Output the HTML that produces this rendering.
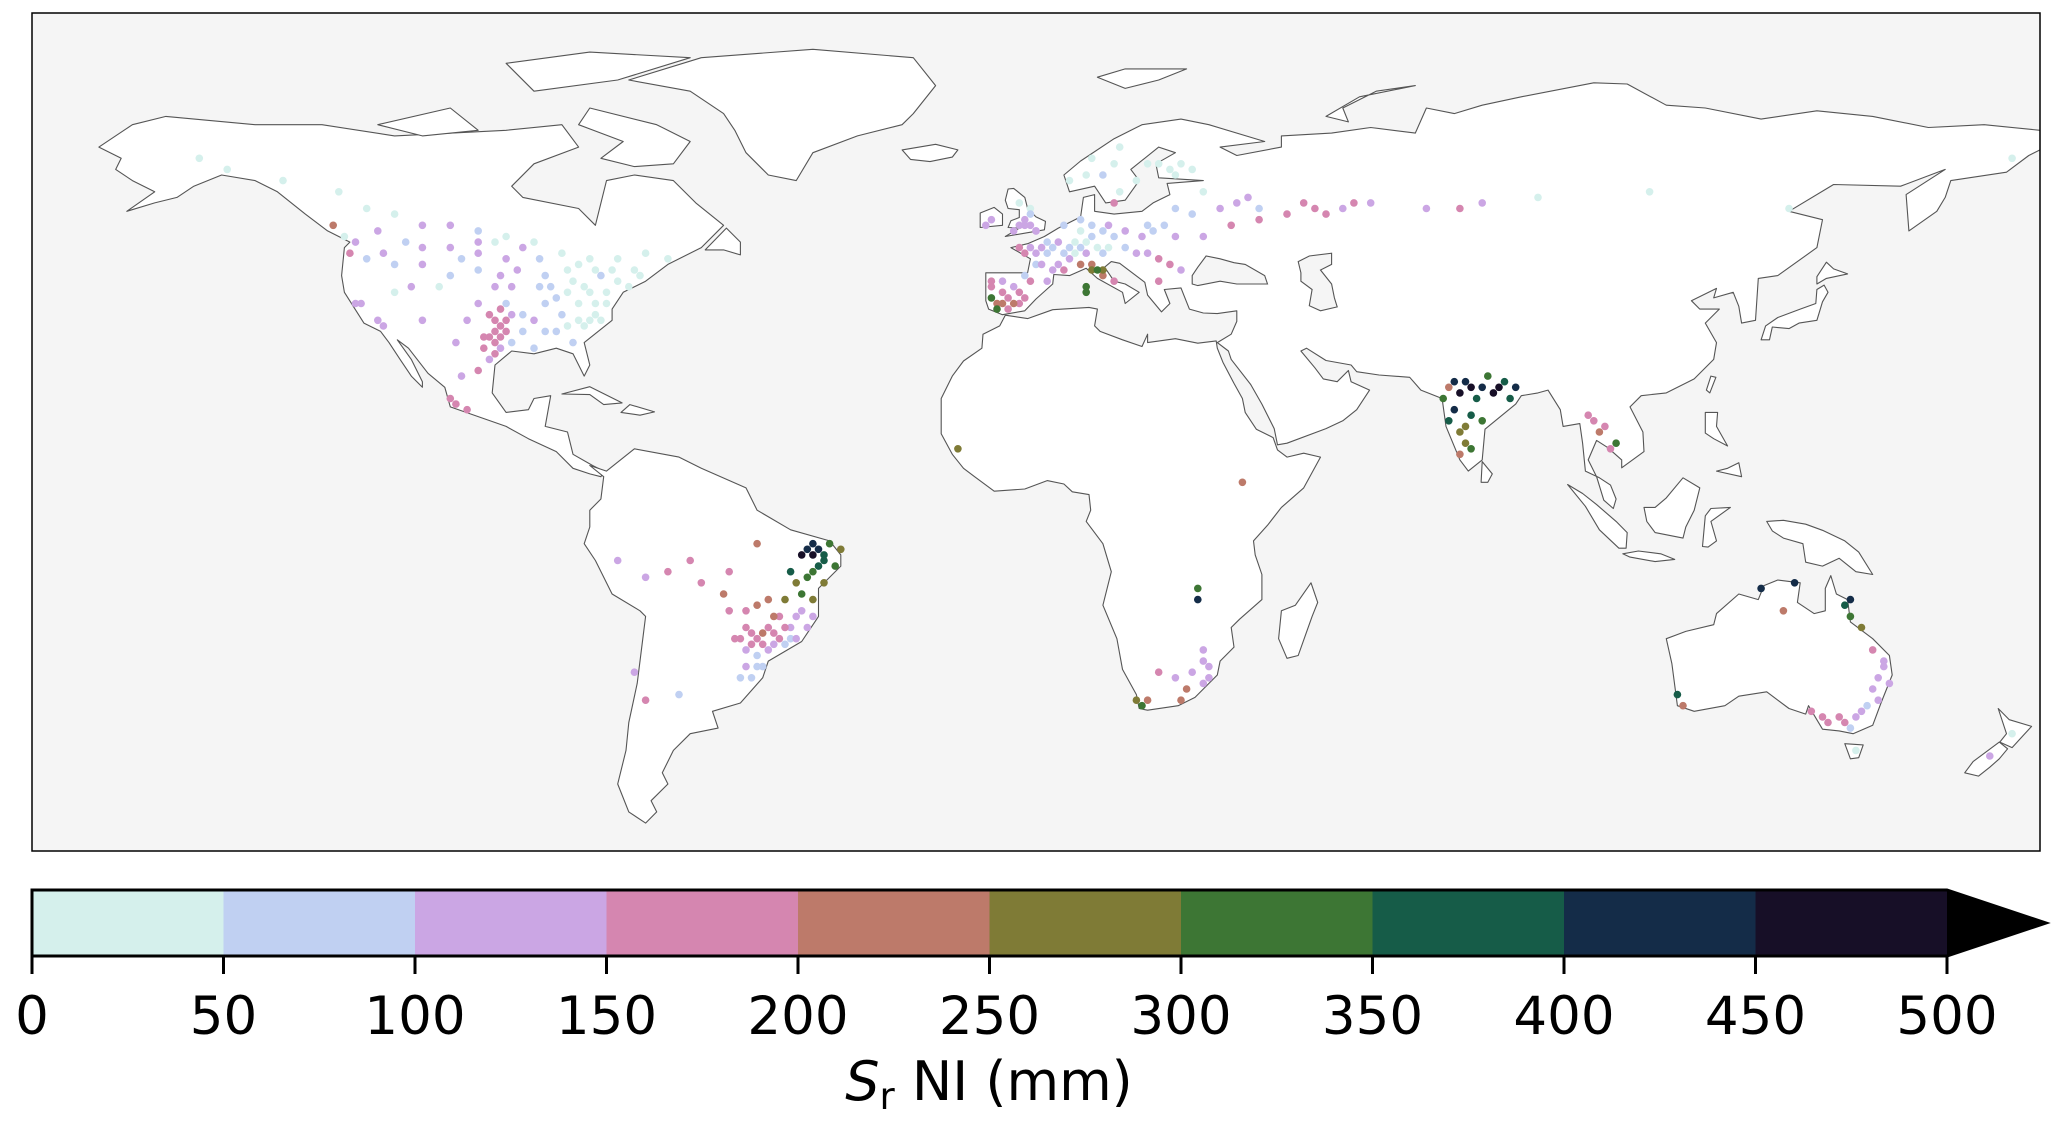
<!DOCTYPE html>
<html><head><meta charset="utf-8"><style>
html,body{margin:0;padding:0;background:#fff;}
svg{display:block;font-family:"DejaVu Sans","Liberation Sans",sans-serif;}
</style></head><body>
<svg id="fig" width="2067" height="1122" viewBox="0 0 2067 1122">
<rect x="32" y="13" width="2008" height="838" fill="#f5f5f5"/>
<g id="land"></g>
<g id="pts"></g>
<rect x="32" y="13" width="2008" height="838" fill="none" stroke="#000" stroke-width="1.5"/>
<g id="cbar"></g>
<text x="989" y="1100" font-size="54" text-anchor="middle"><tspan font-style="italic">S</tspan><tspan font-size="37" dy="9">r</tspan><tspan dy="-9"> NI (mm)</tspan></text>
</svg>
<script>
const binEdges=[0,50,100,150,200,250,300,350,400,450,500];
const binColors=["#d5f0ec","#c0d0f2","#cba6e4","#d586b0","#bd7a6a","#7f7b36","#3d7634","#165c48","#142c48","#170f27"];
const tickLabels=["0","50","100","150","200","250","300","350","400","450","500"];
const overColor="#000000";

const stationLon=[-150,-145,-135,-125,-120,-115,-110,-105,-100,-95,-90,-118,-122,-113,-100,-97,-92,-85,-80,-75,-70,-66,-72,-78,-83,-88,-93,-96,-100,-105,-110,-115,-120,-123,-80,-77,-82,-85,-88,-90,-95,-98,-97,-97,-99,-96,-94,-92,-86,-84,-81,-79,-98,-100,-103,-104,-102,-105,-100,-102,-110,-117,-121,-90,-83,-95,-97,-96,-99,-97,
-8,-6,-4,-3,-7,-5,-8,-1,2,-2,0,2,4,6,8,10,12,14,16,18,20,22,24,26,10,12,8,14,22,20,25,30,35,40,45,50,55,60,38,-2,-1,-3,-4,0,5,8,15,18,22,25,12,10,15,25,30,70,80,76,90,110,135,175,
77,80,82,84,79,76,73,75,78,80,76,77,76,78,83,85,81,74,99,100,101,102,104,103,
-14,37,29,29,30,28,25,22,20,19,27,31,30,
-40,-38,-37,-42,-44,-40,-38,-42,-45,-47,-45,-48,-50,-46,-48,-50,-52,-49,-44,-52,-54,-40,-43,-56,-55,-60,-62,-50,-66,-70,-75,-72,-70,-64,
115,116,130,136,145,146,148,150,152,153,151,148,145,141,139,146,134,147,175,171,
0,1,2,3,4,5,-1,-2,-3,1,3,5,6,7,7,9,11,13,12,9,8,10,13,16,19,21,23,28,33,36,40,48,52,57,10,11,12,9,9,-6,-5,-3,-2,-4,-6,-8,-7,0,-1,-2,-3,-1,-8,-9,14,20,24,26,28,14,9,6,
-75,-73,-71,-77,-79,-81,-84,-87,-84,-89,-82,-76,-79,-95,-100,-105,-110,-117,-97,-94,-96,-98,-95,-96,-94,-92,-86,-89,-80,-82,-78,-88,-104,-122,-118,-103,-107,-115,-112,-124,-126,
-39,-41,-40,-38,-36,-35,-39,-41,-43,-42,-46,-47,-49,-51,-53,-44,-45,-47,-49,-51,-52,-50,-51,-53,-48,-50,-52,-55,-43,-41,-40,
152,151,150,149,147,144,142,146,
75,78,86,74,77,
30,31,26,18];
const stationLat=[64,62,60,58,55,54,52,52,51,50,49,51,49,49,49,49,48,47,46,46,47,46,44,43,42,43,44,43,44,43,45,45,46,47,40,40,38,36,38,35,38,36,33,31,30,30,31,33,33,34,34,36,28,26,25,20,19,21,38,35,35,34,38,30,31,35,35,34,32,29,
42,40,38,40,38,37,39,42,42,43,45,47,45,46,48,50,51,50,48,47,47,46,45,44,45,43,45,42,42,52,50,50,52,53,54,55,55,56,57,52,54,56,51,51,52,53,58,60,63,61,61,64,66,55,58,55,56,55,57,58,55,64,
24,23,22,24,21,22,21,19,18,17,15,13,11,12,23,21,25,23,18,17,15,16,13,12,
12,6,-13,-15,-26,-28,-29,-28,-33,-34,-31,-29,-24,
-5,-7,-5,-7,-10,-10,-12,-14,-15,-18,-20,-20,-22,-22,-24,-25,-27,-27,-20,-20,-22,-18,-22,-14,-10,-12,-8,-5,-10,-11,-8,-28,-33,-32,
-32,-34,-13,-12,-16,-18,-20,-24,-27,-30,-33,-35,-37,-36,-35,-38,-17,-42,-39,-43,
47,48,49,48,49,47,48,47,48,45,44,44,48,49,47,49,48,48,47,47,51,52,52,51,50,51,52,54,55,56,55,56,54,56,44,44,44,40,41,38,39,38,39,41,42,41,37,51,52,53,52,55,53,52,56,63,62,63,62,63,61,60,
42,41,43,38,38,41,40,41,44,46,45,44,44,46,47,48,48,47,41,41,32,32,33,37,36,36,39,41,35,35,35,33,31,38,35,46,41,40,41,50,52,
-6,-6,-7,-8,-9,-6,-9,-11,-12,-17,-18,-21,-21,-21,-22,-22,-23,-23,-23,-23,-24,-27,-29,-29,-15,-16,-17,-17,-18,-20,-15,
-26,-29,-31,-34,-36,-36,-37,-15,
24,23,23,17,16,
-30,-27,-33,-33];
const stationSr=[20,30,25,20,40,30,110,120,90,30,40,130,110,60,120,25,130,20,30,25,40,20,30,80,20,60,110,120,90,70,130,60,80,180,30,20,40,70,60,110,80,160,180,190,170,140,90,60,70,40,25,30,140,150,120,170,160,180,140,100,120,110,140,70,60,160,170,150,190,180,
160,180,200,170,220,190,330,150,120,60,90,60,120,100,80,60,70,80,90,100,130,150,160,140,220,200,240,170,160,60,100,140,160,170,160,150,130,120,140,110,70,40,110,120,70,90,40,30,20,40,50,20,30,70,40,110,130,180,20,30,20,20,
400,420,450,380,350,470,320,400,360,300,280,250,200,330,460,360,300,210,190,160,200,170,300,180,
260,210,340,400,130,120,110,150,240,320,200,130,120,
400,350,300,450,380,320,250,330,270,200,170,160,150,180,110,90,100,70,140,180,160,120,100,210,170,180,150,200,170,120,100,110,150,80,
350,220,400,420,380,300,250,160,130,120,110,100,150,180,170,70,220,40,20,110,
120,100,60,80,110,90,140,150,160,110,130,180,70,40,30,40,30,40,60,110,40,60,100,120,110,90,60,70,120,130,90,150,180,160,260,300,280,330,320,240,190,180,170,140,120,160,300,140,120,130,110,40,120,100,180,40,30,20,30,20,40,30,
30,20,40,30,40,30,40,50,30,60,30,20,30,110,130,110,120,120,110,100,170,180,160,150,130,90,60,70,40,30,30,80,140,140,110,70,40,30,110,20,230,
420,440,460,380,300,280,350,300,250,120,170,190,200,180,150,90,80,100,170,160,130,60,80,70,220,200,190,170,140,110,260,
140,120,110,90,140,160,150,400,
440,460,420,380,290,
140,120,200,250];

const land=[
[[-168,66],[-162,70],[-156,71.5],[-140,70],[-128,70],[-115,68],[-95,69],[-85,70],[-82,66],[-90,63],[-94,59],[-92,57],[-82,55],[-79,52],[-77,60],[-72,61],[-65,60],[-61,56],[-56,52],[-60,48],[-66,45],[-70,42],[-74,40],[-76,37],[-76,35],[-81,31],[-80,27],[-81,25],[-83,29],[-86,30],[-90,29],[-94,29.5],[-97,27],[-97.5,22],[-95,18.5],[-91,19],[-90,21],[-87,21.5],[-88,16],[-84,15],[-83,11],[-79.5,9],[-77.5,8],[-78,7],[-80,7.5],[-83,8.5],[-86,11.5],[-91,13.8],[-95,16],[-105,19.5],[-106,23],[-109,25.5],[-112.5,30],[-114.5,31.5],[-112,28],[-110,24],[-110,23],[-112,25],[-114,28],[-116,31],[-117.5,33],[-120.5,34.5],[-124,40],[-124.5,43],[-124,48],[-123,49],[-127,51],[-131,54],[-136,58],[-140,60],[-146,61],[-151,59],[-154,57],[-158,56],[-163,54.5],[-158,58],[-162,60],[-165,62],[-164,64],[-168,66]],
[[-73,78],[-60,82],[-40,83.5],[-22,82],[-18,77],[-22,72],[-24,70],[-32,68],[-40,65],[-43,60],[-48,61],[-52,65],[-54,69],[-56,72],[-62,76],[-73,78]],
[[-80,73],[-68,70],[-62,67],[-65,63],[-72,62.5],[-78,64],[-74,67],[-82,70]],
[[-118,70],[-105,73],[-100,69],[-110,68]],
[[-90,76],[-75,78],[-62,82],[-80,83],[-95,81]],
[[-80,9],[-77,8],[-72,12],[-64,10.5],[-60,8.5],[-52,5],[-50,1],[-44,-2.5],[-37,-4.5],[-35,-7],[-35,-9],[-39,-13],[-39,-18],[-42,-22.5],[-48,-26],[-49,-29],[-53,-33.5],[-58,-35],[-57,-38],[-62,-39],[-65,-42],[-67,-46],[-66,-48],[-69,-51],[-68,-53],[-70,-55],[-73,-53],[-75,-48],[-73.5,-42],[-73,-37],[-71.5,-30],[-70,-18],[-71,-17],[-76,-14],[-79,-8],[-81,-5],[-80,-2],[-80,1],[-78,3],[-77.5,7],[-80,9]],
[[-9,43.5],[-1.5,43.5],[-1,46],[-4.5,48],[-1.5,48.7],[1.5,50],[4,51.5],[8,53.5],[8.5,57],[10.5,57.5],[10.5,54.5],[14,54],[19,54.5],[21,56],[24,57.5],[23.5,59.5],[30,60],[22,60.5],[21.5,63],[25,65],[22,66],[17,62],[18.5,60],[16,56.5],[12.5,56],[10.5,59],[6,58],[5,61],[8,63.5],[14,67.5],[19,70],[26,71],[31,70],[41,67],[33,66],[36,64.5],[44,66],[44,68],[53,68.5],[60,69.5],[68,68.5],[70,73],[75,72],[80,73.5],[87,75],[100,77.5],[106,77.3],[113,73.5],[120,73],[130,71],[140,72.5],[150,71.5],[160,69.5],[170,70],[180,69],[180,65.5],[178,64.5],[174,61.5],[164,60],[163,57],[161.5,54.5],[156.5,51],[156,57.5],[163,62],[155,59],[143,59.3],[135,54.5],[141,53],[140,48],[133,43],[129.5,42.5],[129,35],[126.5,34.5],[126,37.5],[125,40],[121.5,39],[122,40.7],[117.5,38.5],[119,37],[122.5,37],[120,34.5],[122,31],[121.5,28],[118,24.5],[113,22],[108.5,21.5],[106.5,19.5],[108.8,15],[109,11.5],[105,8.6],[105,10],[102.5,12.2],[100.5,13.5],[99,10],[100.5,7],[101.8,2.8],[103.5,1.3],[104,3],[103,5.5],[101,6.8],[98.5,8],[98,13],[97.5,16.5],[94.5,16],[94,19],[91.8,22.5],[90,22],[87,21.5],[86,20],[80.5,15.5],[80,10],[77.5,8],[76,10],[73.5,16],[72.8,21],[69,22.5],[67,24.8],[61.5,25.2],[57.5,25.8],[56.5,27],[52,27.8],[48.5,30],[47.5,29.5],[50,26.5],[51.5,24.5],[54,24],[56,26],[56.5,24],[59.8,22.5],[57.5,19],[55,17],[52,15.6],[45,13],[43.3,12.7],[42.7,15.6],[40.5,20],[38.5,23.5],[35,28],[34.5,29.5],[32.5,31],[35,32.5],[36,34.8],[36,36.7],[32.5,36.2],[30,36.3],[27.5,37],[26.5,39.5],[26,40.8],[23,40.5],[24,38],[22.5,36.5],[20,39.5],[19.5,41.8],[15,45.2],[13.5,45.5],[12.3,44.5],[14,42],[16,41.5],[18.5,40],[16,38],[15.5,40],[11,42.5],[9,44.3],[6,43],[3.2,43.2],[3,41.5],[0,38.8],[-2,36.7],[-6,36],[-8.5,37],[-9,38.5],[-9,43.5]],
[[-17,21],[-17,14.7],[-15,11],[-13,8.5],[-11,7],[-7.5,4.4],[-2,4.8],[2,6.3],[5,5.7],[6.5,4.3],[9.5,3.8],[9.8,1],[9,-1],[12,-5],[13.5,-10],[12,-16],[14.5,-22],[15.5,-27.5],[18,-32],[18.5,-34.5],[20,-34.8],[25.5,-34],[28.5,-32.5],[32.5,-28.5],[33,-26],[35.5,-23.5],[35,-20],[36.5,-18.5],[40.5,-15],[40.5,-10.5],[39.3,-7],[39,-4.5],[41.5,-1.7],[44,1.5],[48,5],[51,10.5],[48,11.2],[45,10.5],[43.3,11.8],[42.5,14],[39.5,15.5],[37.5,18.5],[37,21],[35.5,23.7],[33.5,27.5],[32.5,30],[32.3,31.3],[29,30.9],[25,31.7],[20,31],[20,32.5],[19,30.3],[15.5,31.5],[11.5,33],[10.5,34],[11,37],[9.5,37.3],[3,36.9],[-1.5,35.3],[-5.5,35.9],[-6.5,34],[-9.5,32.5],[-9.7,30],[-13,27.7],[-15,25],[-17,21]],
[[49.3,-12],[50.5,-15.5],[49.5,-18],[47,-25],[45,-25.5],[43.5,-22],[44,-17],[46.5,-16]],
[[113,-22],[114,-26.5],[115,-34],[118,-35],[123.5,-34],[126,-32.3],[131,-31.5],[135,-34.5],[138,-35.5],[138.5,-34],[141,-38.2],[144,-38.5],[146.5,-39],[150,-37.5],[151.5,-33.5],[153.5,-28.5],[153,-25],[150,-22],[146,-19],[145.5,-15],[143.5,-14],[142.5,-10.7],[141.5,-13],[141.5,-17],[139.5,-17.5],[136.5,-15.5],[137,-12],[133,-11.5],[130.5,-12.5],[129.5,-15],[126,-14],[122,-17.5],[121.5,-19.5],[116.5,-20.7]],
[[145,-40.8],[148.3,-41],[147.5,-43.3],[146,-43.5]],
[[172.5,-34.5],[174.5,-36.5],[178.5,-37.7],[177,-39.3],[175,-41.5],[172.8,-40.5],[174,-39]],
[[172.7,-40.5],[174.2,-41.7],[172.7,-43.5],[171,-45],[169,-46.6],[166.5,-46],[168,-44]],
[[130,31.5],[131.5,31.5],[132,33.8],[135,33.5],[136.8,34.5],[140,35],[141,38.3],[142,40],[141.3,41.3],[140,40.5],[139.8,38],[137,37],[133,35.5],[130.8,34]],
[[140,41.5],[141.7,42.5],[145.5,43.3],[143,44.2],[141.7,45.4],[140,42.8]],
[[-5.5,50],[1.5,51.2],[1.7,52.7],[0,53.5],[-1.5,55],[-2,57],[-4,58.6],[-5,58.5],[-5.5,56.5],[-5,55],[-3,54.8],[-3,53.4],[-4.5,52.8],[-5,51.6],[-3,51.5]],
[[-6,52],[-6,54],[-7.5,55.2],[-10,54.2],[-10,51.6]],
[[-24,65.5],[-18,66.5],[-14,65.5],[-15,64.2],[-19,63.4],[-22.5,63.8]],
[[95.3,5.6],[98,4],[100.5,2],[104,-1],[106,-3],[105.8,-5.8],[104.5,-5.8],[101,-2.5],[98.5,1.7]],
[[105.2,-6.8],[108,-6.3],[112,-6.8],[114.5,-7.8],[111,-8.2],[106.5,-7.4]],
[[109,1.5],[111,1.5],[113,3.2],[116,6.8],[119,5],[118,1],[116.5,-2],[116,-4],[111,-3],[109.5,-1]],
[[119.5,-5.5],[120,0],[121,1.3],[124.5,1.5],[121,-1],[122,-4.5],[120.5,-5.6]],
[[131,-1],[134,-0.8],[138,-1.5],[141,-2.6],[145,-4.5],[147.5,-6.5],[150,-10.5],[147,-10],[144,-7.6],[141,-9],[138,-8.3],[137.5,-5],[134,-4],[132,-2.7]],
[[120,18.5],[122.2,18.5],[122,16],[124,12.5],[121.5,13.8],[120,14.8]],
[[122,8],[126.5,7],[126,9.5],[124,8.5]],
[[120.2,22.5],[121,25],[121.9,24.8],[120.8,22]],
[[79.8,6],[80,9.7],[81.8,7.5],[81,6]],
[[-85,21.8],[-80,23.1],[-74.2,20.2],[-77.5,19.9],[-80,21.7]],
[[-74.4,18.5],[-72.8,19.9],[-68.4,18.6],[-71,18]],
[[-59.3,47.6],[-55.5,51.5],[-53,49],[-53,46.7],[-56,47.6]],
[[11,78.5],[16,80],[27,80],[22,78],[16,76.5]],
[[52,71.5],[58,75],[68,77],[61,76],[55,73],[56,70.5]]
];
const seas=[
[[28,41.5],[29,41.2],[33,42],[36,41.5],[41.5,41.5],[41,43],[37.5,45],[35.5,45.3],[33,46],[30.5,46.5],[29,44.5],[28,43]],
[[47,45.5],[49,46.5],[53,47],[53,45],[51,44],[53,41.5],[53.5,39],[54,37.4],[51,36.7],[49,37.6],[49.5,40.5],[47.5,42],[47.5,43.5]]
];

const X0=32,X1=2040,Y0=13,Y1=851,LAT0=90,LAT1=-60;
function xs(lon){return X0+(lon+180)/360*(X1-X0);}
function ys(lat){return Y0+(LAT0-lat)/(LAT0-LAT1)*(Y1-Y0);}
function colorFor(v){for(let i=0;i<binColors.length;i++){if(v<binEdges[i+1])return binColors[i];}return overColor;}
const NS="http://www.w3.org/2000/svg";
function mk(tag,attrs,parent){const e=document.createElementNS(NS,tag);for(const k in attrs)e.setAttribute(k,attrs[k]);parent.appendChild(e);return e;}
function ptsStr(p){return p.map(q=>xs(q[0]).toFixed(1)+","+ys(q[1]).toFixed(1)).join(" ");}

const landG=document.getElementById('land');
land.forEach((poly,i)=>{
  const e=mk('polygon',{points:ptsStr(poly),fill:"#fff",stroke:"#555","stroke-width":"1.1","stroke-linejoin":"round"},landG);
  
  
});
seas.forEach(poly=>{
  const e=mk('polygon',{points:ptsStr(poly),fill:"#f5f5f5",stroke:"#555","stroke-width":"1.1"},landG);
  
  
});

const ptsG=document.getElementById('pts');
// draw low values first so high values sit on top
const order=stationSr.map((v,i)=>i).sort((a,b)=>stationSr[a]-stationSr[b]);
order.forEach(i=>{
  const e=mk('circle',{cx:xs(stationLon[i]).toFixed(1),cy:ys(stationLat[i]).toFixed(1),r:"3.8",fill:colorFor(stationSr[i])},ptsG);
  
  
});

// colorbar
const CB0=32,CB1=1947,CBT=890,CBB=956;
function cbx(v){return CB0+(v-binEdges[0])/(binEdges[binEdges.length-1]-binEdges[0])*(CB1-CB0);}
const cb=document.getElementById('cbar');
for(let i=0;i<binColors.length;i++){
  const e=mk('rect',{x:cbx(binEdges[i]),y:CBT,width:cbx(binEdges[i+1])-cbx(binEdges[i])+0.5,height:CBB-CBT,fill:binColors[i]},cb);
  
  
}
const ar=mk('polygon',{points:`${CB1},${CBT} 2046,${(CBT+CBB)/2} ${CB1},${CBB}`,fill:overColor},cb);


const ol=mk('polygon',{points:`${CB0},${CBT} ${CB1},${CBT} 2046,${(CBT+CBB)/2} ${CB1},${CBB} ${CB0},${CBB}`,fill:"none",stroke:"#000","stroke-width":"3"},cb);


binEdges.forEach((v,i)=>{
  const x=cbx(v);
  const t=mk('line',{x1:x,y1:CBB,x2:x,y2:CBB+18,stroke:"#000","stroke-width":"3"},cb);
  
  
  const l=mk('text',{x:x,y:1034,"font-size":"53","text-anchor":"middle",fill:"#000"},cb);
  l.textContent=tickLabels[i];
  
  
});
</script>
</body></html>
